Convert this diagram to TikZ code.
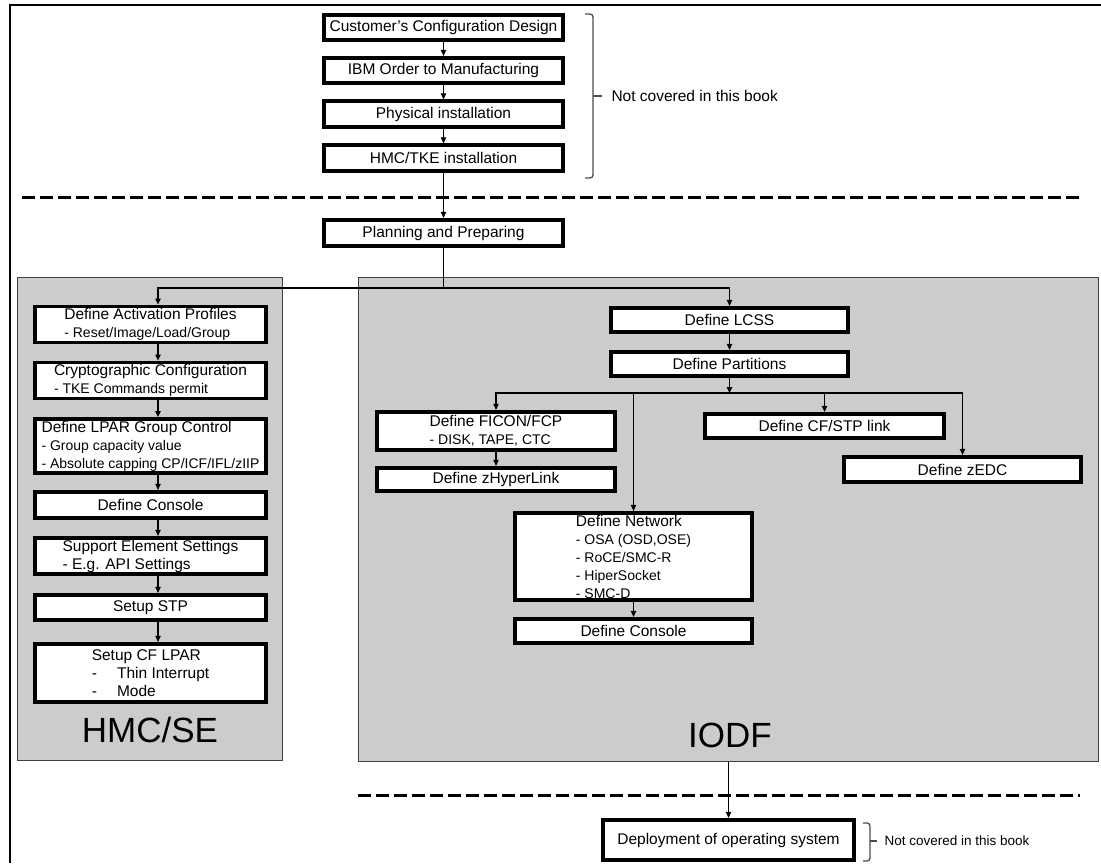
\documentclass[tikz,border=0pt]{standalone}
\usepackage{fontspec}
\setmainfont{Liberation Sans}
\usetikzlibrary{arrows.meta}
\newcommand{\subline}{\fontsize{14}{16.5}\selectfont}

\begin{document}
\begin{tikzpicture}[x=1pt, y=-1pt,
  box/.style={draw, line width=3.8pt, fill=white, inner sep=2pt, align=left, font=\fontsize{15.5}{18}\selectfont},
  panel/.style={draw=black!75, line width=1.3pt, fill=black!20},
  arr/.style={-{Triangle[length=6pt,width=5.5pt]}, line width=1.1pt},
  sep/.style={line width=3pt, dash pattern=on 13pt off 5pt},
  brace/.style={draw=black!70, line width=1.3pt, rounded corners=3pt}]
\useasboundingbox (0,0) rectangle (1101,863);
\draw[line width=1.3pt] (10,863) -- (10,5) -- (1101,5);
\draw[sep] (22,197) -- (1080,197);
\draw[sep] (358,795) -- (1080,795);
\node[panel, minimum width=265, minimum height=483] (hmcse) at (150,519) {};
\node[panel, minimum width=740, minimum height=484] (iodf) at (728.5,519.5) {};
\node[font=\fontsize{35}{40}\selectfont] (hmcselabel) at (150,730) {HMC/SE};
\node[font=\fontsize{35}{40}\selectfont] (iodflabel) at (730,735) {IODF};
\node[box, minimum width=239.5, minimum height=25.5] (custdes) at (443.5,27.5) {Customer's Configuration Design};
\node[box, minimum width=239.5, minimum height=25.5] (ibmorder) at (443.5,70.5) {IBM Order to Manufacturing};
\node[box, minimum width=239.5, minimum height=25.5] (physinst) at (443.5,114) {Physical installation};
\node[box, minimum width=239.5, minimum height=25.5] (hmctke) at (443.5,158) {HMC/TKE installation};
\node[box, minimum width=239.5, minimum height=26.5] (planprep) at (443.5,233) {Planning and Preparing};
\node[box, minimum width=231.5, minimum height=35.5] (act) at (150.5,324.5) {Define Activation Profiles\\{\subline - Reset/Image/Load/Group}};
\node[box, minimum width=231.5, minimum height=35.5] (crypto) at (150.5,380.5) {Cryptographic Configuration\\{\subline - TKE Commands permit}};
\node[box, minimum width=231.5, minimum height=52.5] (lpargrp) at (150.5,446) {Define LPAR Group Control\\{\subline - Group capacity value}\\{\subline - Absolute capping CP/ICF/IFL/zIIP}};
\node[box, minimum width=231.5, minimum height=26.5] (lcons) at (150.5,505) {Define Console};
\node[box, minimum width=231.5, minimum height=36.5] (sesett) at (150.5,556) {Support Element Settings\\- E.g. API Settings};
\node[box, minimum width=231.5, minimum height=25.5] (stp) at (150.5,607.5) {Setup STP};
\node[box, minimum width=231.5, minimum height=58.5] (cflpar) at (150.5,673) {Setup CF LPAR\\-\hspace{1.3em}Thin Interrupt\\-\hspace{1.3em}Mode};
\node[box, minimum width=237.5, minimum height=24.5] (lcss) at (729.5,320) {Define LCSS};
\node[box, minimum width=237.5, minimum height=24.5] (parts) at (729.5,364) {Define Partitions};
\node[box, minimum width=238.5, minimum height=38.5] (ficon) at (496,431) {Define FICON/FCP\\{\subline - DISK, TAPE, CTC}};
\node[box, minimum width=238.5, minimum height=23.5] (zhyper) at (496,479.5) {Define zHyperLink};
\node[box, minimum width=239.5, minimum height=24.5] (cfstp) at (824.5,426) {Define CF/STP link};
\node[box, minimum width=237.5, minimum height=25.5] (zedc) at (962.5,469.5) {Define zEDC};
\node[box, minimum width=237.5, minimum height=87.5] (network) at (633.5,556.5) {Define Network\\{\subline - OSA (OSD,OSE)}\\{\subline - RoCE/SMC-R}\\{\subline - HiperSocket}\\{\subline - SMC-D}};
\node[box, minimum width=237.5, minimum height=24.5] (rcons) at (633.5,631) {Define Console};
\node[box, minimum width=251.5, minimum height=40.5] (deploy) at (728.5,840) {Deployment of operating system};
\draw[brace] (585,14) -- (593,14) -- (593,178) -- (585,178);
\draw[brace] (593,96) -- (602,96);
\node[anchor=west, font=\fontsize{15.5}{18}\selectfont] (notcov) at (608,96) {Not covered in this book};
\draw[brace] (863,823) -- (870,823) -- (870,861) -- (863,861);
\draw[brace] (870,841) -- (877,841);
\node[anchor=west, font=\fontsize{13.5}{16}\selectfont] (notcovos) at (881,841) {Not covered in this book};
\coordinate (lx) at (158,288);
\coordinate (split) at (443.5,288);
\coordinate (fork) at (729.5,393);
\draw[arr] (custdes.south) -- (ibmorder.north);
\draw[arr] (ibmorder.south) -- (physinst.north);
\draw[arr] (physinst.south) -- (hmctke.north);
\draw[arr] (hmctke.south) -- (planprep.north);
\draw[line width=1.1pt] (planprep.south) -- (split);
\draw[arr] (split) -| (act.north -| lx);
\draw[arr] (split) -| (lcss.north);
\draw[arr] (act.south -| lx) -- (crypto.north -| lx);
\draw[arr] (crypto.south -| lx) -- (lpargrp.north -| lx);
\draw[arr] (lpargrp.south -| lx) -- (lcons.north -| lx);
\draw[arr] (lcons.south -| lx) -- (sesett.north -| lx);
\draw[arr] (sesett.south -| lx) -- (stp.north -| lx);
\draw[arr] (stp.south -| lx) -- (cflpar.north -| lx);
\draw[arr] (lcss.south) -- (parts.north);
\draw[arr] (parts.south) -- (fork);
\draw[arr] (fork) -| (ficon.north);
\draw[arr] (fork) -| (cfstp.north);
\draw[arr] (fork) -| (zedc.north);
\draw[arr] (network.north |- fork) -- (network.north);
\draw[arr] (ficon.south) -- (zhyper.north);
\draw[arr] (network.south) -- (rcons.north);
\draw[arr] (iodf.south) -- (deploy.north);
\end{tikzpicture}
\end{document}
